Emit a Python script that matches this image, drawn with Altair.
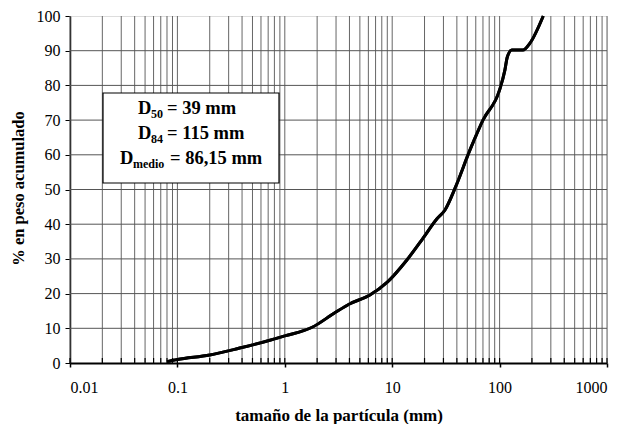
import altair as alt
import pandas as pd

# particle size distribution curve
size_mm = [0.08, 0.1, 0.2, 0.38, 0.7, 1, 1.8, 2.9, 4, 6.2, 9, 13.7, 19.4, 26, 31,
           38.5, 53, 70, 100, 112, 118, 130, 165, 192, 255]
pct_acum = [0.4, 1, 2.3, 4.3, 6.4, 7.8, 10.3, 14.4, 17, 19.6, 23.3, 29.7, 36, 41.5, 44.1,
            50.4, 61.4, 70, 78.7, 84.4, 88.2, 90.2, 90.2, 92.2, 100]

decades = [0.01, 0.1, 1, 10, 100, 1000]
y_ticks = [0, 10, 20, 30, 40, 50, 60, 70, 80, 90, 100]
minor_mult = [1, 2, 3, 4, 5, 6, 7, 8, 9]
grid_x = [round(d * m, 6) for d in decades[:-1] for m in minor_mult] + [decades[-1]]

W, H = 537, 347
FONT = "Liberation Serif"

curve = pd.DataFrame({"x": size_mm, "y": pct_acum})
gx = pd.DataFrame({"x": grid_x})
gy = pd.DataFrame({"y": y_ticks[1:-1]})

xscale = alt.Scale(type="log", domain=[0.01, 1000], nice=False)
yscale = alt.Scale(domain=[0, 100], nice=False)

xaxis = alt.Axis(values=decades, format="~g", grid=False, tickSize=4, tickColor="black",
                 tickWidth=1.5, domainColor="black", domainWidth=2, labelFont=FONT,
                 labelFontSize=16, labelColor="black", labelPadding=12,
                 title="tamaño de la partícula (mm)", titleFont=FONT, titleFontSize=17,
                 titleFontWeight="bold", titleColor="black", titleY=44)
yaxis = alt.Axis(values=y_ticks, grid=False, tickSize=5, tickColor="black",
                 domainColor="black", domainWidth=1.5, labelFont=FONT, labelFontSize=16,
                 labelColor="black", labelPadding=5,
                 title="% en peso acumulado", titleFont=FONT, titleFontSize=16.5,
                 titleFontWeight="bold", titleColor="black", titleX=-44, titleY=172)

X = alt.X("x:Q", scale=xscale, axis=xaxis, title="tamaño de la partícula (mm)")
Y = alt.Y("y:Q", scale=yscale, axis=yaxis, title="% en peso acumulado")

vgrid = alt.Chart(gx).mark_rule(color="#666", strokeWidth=1).encode(x=X)
hgrid = alt.Chart(gy).mark_rule(color="#555", strokeWidth=1).encode(y=Y)
minor_ticks = alt.Chart(gx).mark_rule(color="black", strokeWidth=1.2).encode(
    x=X, y=alt.value(H), y2=alt.value(H - 5))

line = alt.Chart(curve).mark_line(color="black", strokeWidth=3, interpolate="monotone").encode(
    x=X, y=Y)

# annotation box
box = alt.Chart(pd.DataFrame({"a": [0]})).mark_rect(
    fill="white", stroke="black", strokeWidth=1.2).encode(
    x=alt.value(33), x2=alt.value(209), y=alt.value(77), y2=alt.value(167))

def txt(s, x, y, size, align="left"):
    return alt.Chart(pd.DataFrame({"t": [s]})).mark_text(
        font=FONT, fontSize=size, fontWeight="bold", color="black",
        align=align, baseline="alphabetic").encode(
        text="t:N", x=alt.value(x), y=alt.value(y))

ann = [
    txt("D", 68, 98, 18.5), txt("50", 81, 102, 12), txt("= 39 mm", 97, 98, 18.5),
    txt("D", 68, 123, 18.5), txt("84", 81, 127, 12), txt("= 115 mm", 97, 123, 18.5),
    txt("D", 50, 148, 18.5), txt("medio", 63, 152, 12), txt("= 86,15 mm", 100, 148, 18.5),
]

chart = alt.layer(line, vgrid, hgrid, minor_ticks, line, box, *ann).properties(
    width=W, height=H,
    autosize=alt.AutoSizeParams(type="none"),
    padding={"left": 62, "top": 8, "right": 12, "bottom": 61},
).configure_view(stroke="black", strokeWidth=1.5).configure(background="white")

chart.save("out.html", embed_options={"renderer": "svg", "actions": False})
